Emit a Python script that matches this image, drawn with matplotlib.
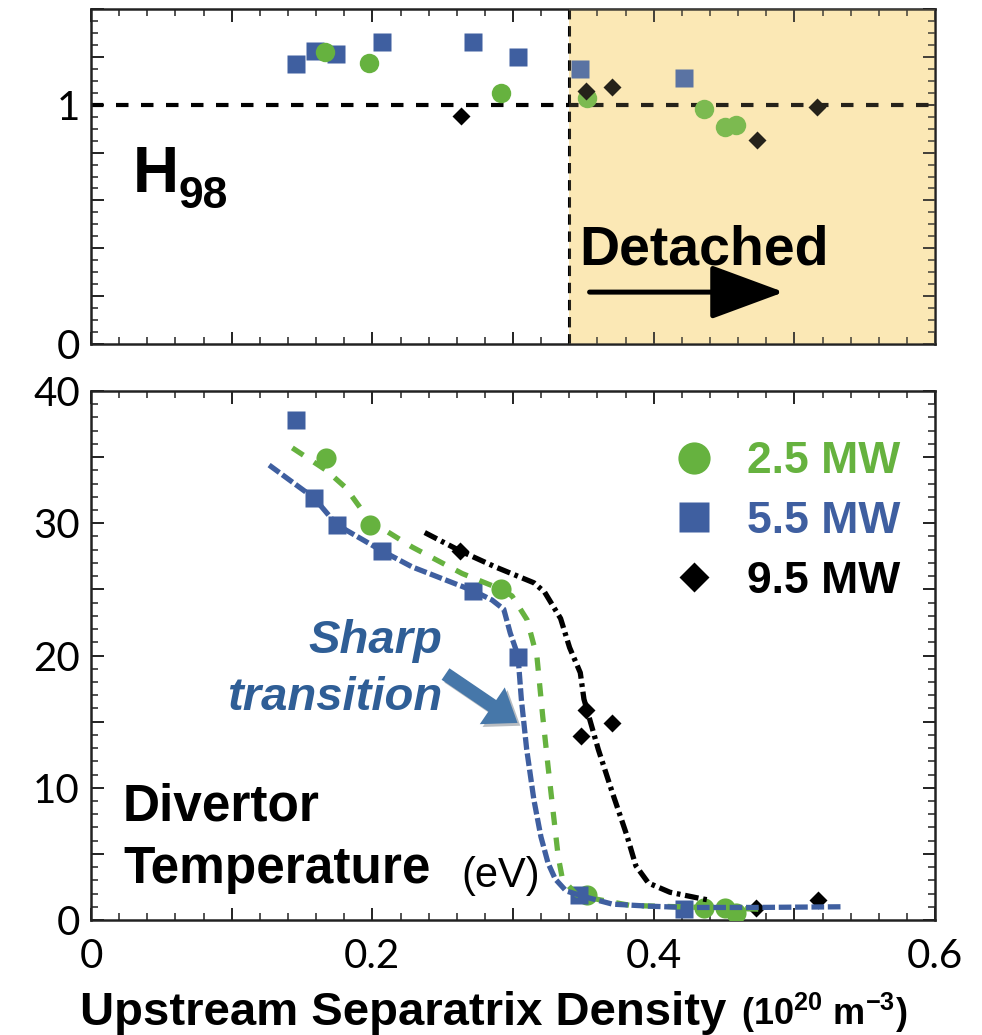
"""H98 and divertor temperature vs upstream separatrix density."""
import matplotlib
matplotlib.use("Agg")
import matplotlib.pyplot as plt
import matplotlib.patheffects as pe
from matplotlib.ticker import MultipleLocator, FuncFormatter

# ---- data ----
# top panel: H98
h98_x_25 = [0.1665, 0.1976, 0.2916, 0.3523, 0.4354, 0.4508, 0.4584]
h98_25 = [1.222, 1.174, 1.050, 1.030, 0.982, 0.908, 0.917]
h98_x_55 = [0.1457, 0.1590, 0.1744, 0.2066, 0.2714, 0.3034, 0.3476, 0.4216]
h98_55 = [1.172, 1.225, 1.214, 1.261, 1.261, 1.200, 1.149, 1.110]
h98_x_95 = [0.2631, 0.3516, 0.3700, 0.4733, 0.5160]
h98_95 = [0.954, 1.058, 1.075, 0.853, 0.989]

# bottom panel: divertor temperature (eV)
te_x_25 = [0.1673, 0.1980, 0.2917, 0.3529, 0.4356, 0.4509, 0.4585]
te_25 = [34.9, 29.9, 25.0, 1.9, 0.9, 0.9, 0.55]
te_x_55 = [0.1457, 0.1587, 0.1746, 0.2070, 0.2716, 0.3035, 0.3466, 0.4216]
te_55 = [37.8, 31.9, 29.9, 27.9, 24.9, 19.9, 1.9, 0.8]
te_x_95 = [0.2626, 0.3483, 0.3517, 0.3702, 0.4725, 0.5170]
te_95 = [27.9, 13.9, 15.9, 14.9, 0.9, 1.5]

# hand-drawn trend curves
fit_x_25 = [0.1431, 0.1673, 0.1810, 0.1980, 0.2283, 0.2638, 0.2917, 0.2993, 0.3100,
            0.3170, 0.3211, 0.3249, 0.3288, 0.3321, 0.3351, 0.3453, 0.3606, 0.3835,
            0.4356, 0.4802]
fit_25 = [35.7, 34.0, 32.7, 30.2, 28.2, 26.2, 25.0, 24.5, 22.7, 19.9, 15.4, 11.6, 7.9,
          4.8, 3.1, 1.9, 1.55, 1.1, 0.95, 0.8]
fit_x_55 = [0.1266, 0.1587, 0.1746, 0.2070, 0.2283, 0.2716, 0.2850, 0.2934, 0.2980,
            0.3035, 0.3059, 0.3097, 0.3148, 0.3198, 0.3249, 0.3300, 0.3377, 0.3529,
            0.3707, 0.3962, 0.4216, 0.4725, 0.5336]
fit_55 = [34.4, 31.9, 29.9, 27.9, 26.7, 24.9, 24.2, 23.5, 21.7, 20.0, 16.7, 12.9, 9.1,
          6.3, 4.3, 3.1, 2.2, 1.7, 1.2, 1.05, 0.95, 0.95, 1.0]
fit_x_95 = [0.2372, 0.2626, 0.2874, 0.3148, 0.3224, 0.3338, 0.3402, 0.3478, 0.3504,
            0.3606, 0.3707, 0.3809, 0.3873, 0.3962, 0.4115, 0.4344, 0.4400]
fit_95 = [29.3, 27.9, 26.7, 25.5, 24.8, 22.8, 20.6, 18.7, 16.7, 12.9, 9.6, 6.4, 4.1,
          2.8, 2.1, 1.6, 1.5]

labels = ["2.5 MW", "5.5 MW", "9.5 MW"]
detach_x = 0.34

GREEN, BLUE, BLACK = "#66b23f", "#3f5fa0", "#000000"
YELLOW = "#fbe8b5"
BOLD = dict(family="Liberation Sans", weight="bold")
TICKFONT = dict(family="Lato", weight="normal", size=29, color="black")

plt.rcParams["mathtext.fontset"] = "custom"
plt.rcParams["mathtext.bf"] = "Liberation Sans:bold"
plt.rcParams["mathtext.rm"] = "Liberation Sans:bold"

fig = plt.figure(figsize=(9.82, 10.35), dpi=100)
ax1 = fig.add_axes([0.0927, 0.6676, 0.8595, 0.3237])
ax2 = fig.add_axes([0.0927, 0.1111, 0.8595, 0.5111])


def style(ax):
    ax.set_xlim(0, 0.6)
    ax.xaxis.set_major_locator(MultipleLocator(0.1))
    ax.xaxis.set_minor_locator(MultipleLocator(0.02))
    ax.tick_params(which="both", direction="in", top=True, right=True, color="#222")
    ax.tick_params(which="major", length=9, width=1.4, pad=8)
    ax.tick_params(axis="x", which="major", pad=13)
    ax.tick_params(which="minor", length=5, width=1.1)
    for s in ax.spines.values():
        s.set_linewidth(1.8)
        s.set_color("#222")
    for lab in ax.get_xticklabels() + ax.get_yticklabels():
        lab.set(**TICKFONT)


def only(vals):
    return FuncFormatter(lambda v, p: next((f"{t:g}" for t in vals if abs(v - t) < 1e-6), ""))


# ---- top panel ----
ax1.set_ylim(0, 1.4)
ax1.yaxis.set_major_locator(MultipleLocator(0.2))
ax1.yaxis.set_minor_locator(MultipleLocator(0.05))
ax1.yaxis.set_major_formatter(only([0, 1]))
ax1.xaxis.set_major_formatter(FuncFormatter(lambda v, p: ""))
ax1.axvspan(detach_x, 0.6, color=YELLOW, lw=0, zorder=0)
ax1.axhline(1, color="black", lw=3.0, dashes=(3.0, 3.0), zorder=2)
ax1.axvline(detach_x, color="black", lw=2.2, dashes=(3.4, 2.2), zorder=2)
ax1.plot(h98_x_55, h98_55, ls="none", marker="s", ms=13.5, color=BLUE, mec="none", zorder=3)
ax1.plot(h98_x_25, h98_25, ls="none", marker="o", ms=14, color=GREEN, mec="none", zorder=3)
ax1.plot(h98_x_95, h98_95, ls="none", marker="D", ms=9.5, color=BLACK, mec="none", zorder=3)
ax1.axvspan(detach_x, 0.6, color=YELLOW, alpha=0.15, lw=0, zorder=6)
style(ax1)
ax1.text(0.05, 0.454, "H", transform=ax1.transAxes, fontsize=46, **BOLD)
ax1.text(0.104, 0.405, "98", transform=ax1.transAxes, fontsize=32, **BOLD)
ax1.text(0.579, 0.236, "Detached", transform=ax1.transAxes, fontsize=40, zorder=7, **BOLD)
ax1.annotate("", xy=(0.4925, 0.217), xytext=(0.3544, 0.217),
             arrowprops=dict(arrowstyle="-|>,head_length=2.3,head_width=0.85",
                             mutation_scale=20, lw=3.6, color="black",
                             shrinkA=0, shrinkB=0), zorder=7)

# ---- bottom panel ----
ax2.set_ylim(0, 40)
ax2.yaxis.set_major_locator(MultipleLocator(5))
ax2.yaxis.set_minor_locator(MultipleLocator(1))
ax2.yaxis.set_major_formatter(only([0, 10, 20, 30, 40]))
ax2.xaxis.set_major_formatter(only([0, 0.2, 0.4, 0.6]))

h25, = ax2.plot(te_x_25, te_25, ls="none", marker="o", ms=14.5, color=GREEN, mec="none", zorder=3)
h55, = ax2.plot(te_x_55, te_55, ls="none", marker="s", ms=13.5, color=BLUE, mec="none", zorder=3)
h95, = ax2.plot(te_x_95, te_95, ls="none", marker="D", ms=9.5, color=BLACK, mec="none", zorder=3)
ax2.plot(fit_x_25, fit_25, color=GREEN, lw=3.8, dashes=(2.5, 2.4), zorder=4)
ax2.plot(fit_x_55, fit_55, color=BLUE, lw=3.8, dashes=(2.4, 0.7), zorder=4)
ax2.plot(fit_x_95, fit_95, color=BLACK, lw=3.8, dashes=(2.6, 0.9, 0.7, 0.9), zorder=4)
style(ax2)

leg = ax2.legend([h25, h55, h95], labels, loc="upper left", bbox_to_anchor=(0.688, 0.905),
                 frameon=False, markerscale=1.6, handlelength=1.0, handletextpad=0.7,
                 labelspacing=0.42, borderpad=0, borderaxespad=0,
                 prop=dict(family="Liberation Sans", weight="bold", size=32),
                 labelcolor=[GREEN, BLUE, BLACK])

ax2.text(0.416, 0.505, "Sharp", transform=ax2.transAxes, ha="right", color="#2f5e96",
         fontsize=34, family="Liberation Sans", weight="bold", style="italic")
ax2.text(0.416, 0.397, "transition", transform=ax2.transAxes, ha="right", color="#2f5e96",
         fontsize=34, family="Liberation Sans", weight="bold", style="italic")
arr = ax2.annotate("", xy=(0.3032, 14.9), xytext=(0.252, 18.6),
                   arrowprops=dict(arrowstyle="simple,head_length=1.1,head_width=1.6,tail_width=0.5",
                                   mutation_scale=20, color="#4677a9", lw=0,
                                   shrinkA=0, shrinkB=0))
arr.arrow_patch.set_path_effects([pe.SimplePatchShadow(offset=(2, -2), alpha=0.3), pe.Normal()])

ax2.text(0.038, 0.189, "Divertor", transform=ax2.transAxes, fontsize=37, **BOLD)
ax2.text(0.038, 0.070, "Temperature", transform=ax2.transAxes, fontsize=37, **BOLD)
ax2.text(0.439, 0.062, "(eV)", transform=ax2.transAxes, fontsize=30, family="Liberation Sans")

fig.text(0.081, 0.0097, "Upstream Separatrix Density", fontsize=34, **BOLD)
fig.text(0.755, 0.0097, r"(10$^{\mathbf{20}}$ m$^{\mathbf{-3}}$)", fontsize=26, **BOLD)

fig.savefig("out.png", dpi=100)
